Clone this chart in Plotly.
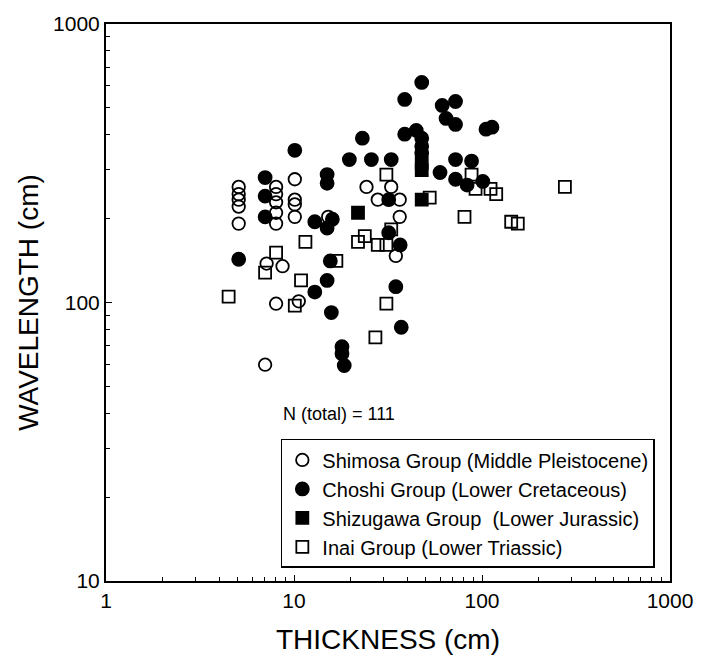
import plotly.graph_objects as go

# Shimosa Group (Middle Pleistocene) - open circles
shimosa_x = [5.08, 5.08, 5.08, 5.08, 5.08, 8.03, 8.03, 8.03, 8.03, 8.03, 10.1, 10.1, 10.1, 10.1,
             15.2, 24.3, 32.9, 27.9, 36.5, 36.5, 34.8, 7.15, 8.69, 8.03, 10.6, 7.02]
shimosa_y = [260, 245, 234, 221, 192, 260, 245, 229, 210, 192, 277, 234, 225, 203,
             203, 260, 260, 234, 234, 203, 147, 138, 135, 99, 101, 59.8]

# Choshi Group (Lower Cretaceous) - filled circles
choshi_x = [47.8, 38.8, 61.4, 72.3, 64.4, 72.3, 105, 113, 23.1, 38.8, 44.7, 47.8, 47.8, 47.8,
            10.1, 19.7, 25.8, 32.9, 72.3, 88.0, 59.8, 72.3, 101, 83.3, 15.0, 15.0, 7.02, 7.02,
            7.02, 12.9, 16.0, 15.0, 31.9, 31.9, 36.7, 5.08, 15.6, 15.0, 12.9, 34.8, 15.8, 37.2,
            18.0, 18.0, 18.5]
choshi_y = [617, 536, 510, 527, 458, 436, 419, 426, 389, 402, 415, 389, 364, 344,
            352, 326, 326, 326, 326, 322, 293, 277, 272, 264, 288, 268, 281, 241,
            203, 195, 199, 185, 234, 178, 161, 143, 141, 120, 109, 114, 92, 81.5,
            69.4, 65.5, 59.4]

# Shizugawa Group (Lower Jurassic) - filled squares
shizugawa_x = [21.9, 47.8, 47.8, 47.8]
shizugawa_y = [210, 317, 299, 234]

# Inai Group (Lower Triassic) - open squares
inai_x = [31.0, 88.0, 92.4, 111, 119, 52.7, 80.7, 143, 155, 276, 32.9, 11.5, 23.8, 21.9,
          27.9, 31.0, 8.03, 7.02, 10.9, 16.8, 4.49, 10.1, 31.0, 27.1]
inai_y = [288, 288, 256, 256, 245, 238, 203, 195, 192, 260, 183, 165, 173, 165,
          161, 161, 151, 128, 120, 141, 105, 97.5, 99, 75]

series_names = ["Shimosa Group (Middle Pleistocene)",
                "Choshi Group (Lower Cretaceous)",
                "Shizugawa Group  (Lower Jurassic)",
                "Inai Group (Lower Triassic)"]

x_ticks = [1, 10, 100, 1000]
y_ticks = [10, 100, 1000]
x_minor = [m * 10 ** e for e in range(0, 3) for m in range(2, 10)]
y_minor = [m * 10 ** e for e in range(1, 3) for m in range(2, 10)]

FONT = "Liberation Sans, Arial, Helvetica, sans-serif"

fig = go.Figure()

def add(xs, ys, name, symbol, size):
    fig.add_trace(go.Scatter(
        x=xs, y=ys, mode="markers", name=name,
        marker=dict(symbol=symbol, size=size, color="black",
                    line=dict(color="black", width=1.8)),
    ))

# drawing order; legend shown reversed -> Shimosa, Choshi, Shizugawa, Inai
add(inai_x, inai_y, series_names[3], "square-open", 12)
add(shizugawa_x, shizugawa_y, series_names[2], "square", 12)
add(choshi_x, choshi_y, series_names[1], "circle", 13)
add(shimosa_x, shimosa_y, series_names[0], "circle-open", 12.5)

axis_common = dict(
    type="log", showgrid=False, zeroline=False,
    showline=True, linecolor="black", linewidth=2, mirror=True,
    ticks="inside", ticklen=6, tickwidth=1.2, tickcolor="black",
    tickfont=dict(family=FONT, size=21, color="black"),
)

fig.update_xaxes(range=[0, 3], tickvals=x_ticks, ticktext=[str(v) for v in x_ticks],
                 minor=dict(tickvals=x_minor, ticks="inside", ticklen=4, tickwidth=1,
                            tickcolor="black", showgrid=False),
                 title=dict(text="THICKNESS (cm)", font=dict(family=FONT, size=28, color="black"),
                            standoff=18),
                 **axis_common)
fig.update_yaxes(range=[1, 3], tickvals=y_ticks, ticktext=[str(v) for v in y_ticks],
                 minor=dict(tickvals=y_minor, ticks="inside", ticklen=4, tickwidth=1,
                            tickcolor="black", showgrid=False),
                 title=dict(text="WAVELENGTH (cm)", font=dict(family=FONT, size=28, color="black"),
                            standoff=6),
                 **axis_common)

fig.add_annotation(text="N (total) = 111", xref="paper", yref="paper",
                   x=0.31, y=0.30, xanchor="left", yanchor="middle", showarrow=False,
                   font=dict(family=FONT, size=18, color="black"))

fig.update_layout(
    width=707, height=663,
    margin=dict(l=106, r=37, t=20, b=82),
    paper_bgcolor="white", plot_bgcolor="white",
    font=dict(family=FONT, color="black"),
    legend=dict(
        x=0.31, y=0.255, xanchor="left", yanchor="top",
        bordercolor="black", borderwidth=1.5, bgcolor="white",
        font=dict(family=FONT, size=20, color="black"),
        traceorder="reversed", itemwidth=30, tracegroupgap=0,
    ),
)

fig.write_html("out.html")
